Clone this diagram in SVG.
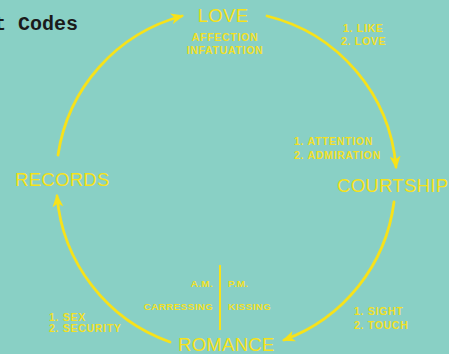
<svg xmlns="http://www.w3.org/2000/svg" width="449" height="354" viewBox="0 0 449 354">
<defs>
<style>
.big{font-family:"Liberation Sans",Arial,sans-serif;font-size:18.5px;fill:#F7E21A;letter-spacing:0.3px}
.sm{font-family:"Liberation Sans",Arial,sans-serif;font-size:10.5px;font-weight:bold;fill:#F2E026;letter-spacing:0.7px}
.xs{font-family:"Liberation Sans",Arial,sans-serif;font-size:9.8px;font-weight:bold;fill:#F2E026;letter-spacing:0.4px}
.arc{fill:none;stroke:#F7E21A;stroke-width:2.8;stroke-linecap:round}
</style>
<marker id="ah" viewBox="0 0 13 11" refX="11" refY="5.5" markerWidth="13" markerHeight="11" markerUnits="userSpaceOnUse" orient="auto">
<path d="M0,0 L13,5.5 L0,11 L3.5,5.5 Z" fill="#F7E21A"/>
</marker>
</defs>
<rect width="449" height="354" fill="#89D0C5"/>
<text x="-6" y="30" font-family="'Liberation Mono',monospace" font-size="20" font-weight="bold" fill="#1a1a1a">t Codes</text>
<g id="connectors">
<path class="arc" d="M58,155 A170,170 0 0 1 182,16" marker-end="url(#ah)"/>
<path class="arc" d="M267,16 A170,170 0 0 1 396,167" marker-end="url(#ah)"/>
<path class="arc" d="M394,202 A170,170 0 0 1 284,340" marker-end="url(#ah)"/>
<path class="arc" d="M170,342 A170,170 0 0 1 57,196" marker-end="url(#ah)"/>
</g>
<g id="love">
<text class="big" x="223" y="22" text-anchor="middle">LOVE</text>
<text class="sm" x="225" y="41" text-anchor="middle">AFFECTION</text>
<text class="sm" x="225" y="54" text-anchor="middle">INFATUATION</text>
</g>
<g id="love-list">
<text class="sm" x="343" y="32">1. LIKE</text>
<text class="sm" x="341" y="45">2. LOVE</text>
</g>
<g id="courtship-list">
<text class="sm" x="294" y="145">1. ATTENTION</text>
<text class="sm" x="294" y="159">2. ADMIRATION</text>
</g>
<g id="courtship">
<text class="big" x="337" y="192" letter-spacing="0">COURTSHIP</text>
</g>
<g id="records">
<text class="big" x="15" y="186">RECORDS</text>
</g>
<g id="romance">
<text class="big" x="178" y="351">ROMANCE</text>
<line x1="220" y1="265" x2="220" y2="330" stroke="#F7E21A" stroke-width="2"/>
<text class="xs" x="213" y="287" text-anchor="end">A.M.</text>
<text class="xs" x="228" y="287">P.M.</text>
<text class="xs" x="213" y="310" text-anchor="end">CARRESSING</text>
<text class="xs" x="228" y="310">KISSING</text>
</g>
<g id="records-list">
<text class="sm" x="49" y="321">1. SEX</text>
<text class="sm" x="49" y="332">2. SECURITY</text>
</g>
<g id="romance-list">
<text class="sm" x="354" y="315">1. SIGHT</text>
<text class="sm" x="354" y="329">2. TOUCH</text>
</g>
</svg>
